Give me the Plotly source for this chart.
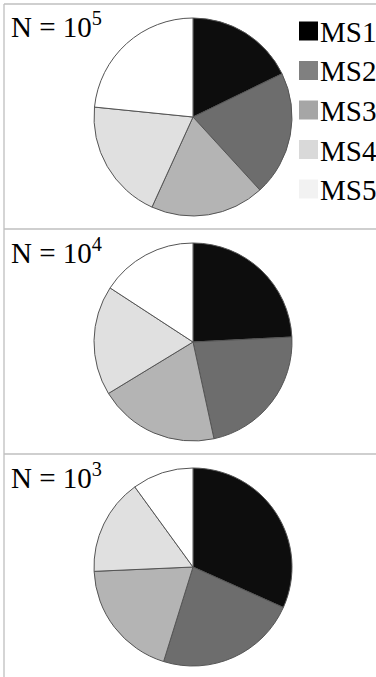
import plotly.graph_objects as go

W, H = 376, 677

categories = ["MS1", "MS2", "MS3", "MS4", "MS5"]
panel_labels = ["N = 10<sup>5</sup>", "N = 10<sup>4</sup>", "N = 10<sup>3</sup>"]
shares_n1e5 = [17.8, 20.4, 18.6, 19.8, 23.4]
shares_n1e4 = [24.2, 22.4, 19.7, 17.9, 15.8]
shares_n1e3 = [31.7, 23.1, 19.5, 15.7, 10.0]

slice_colors = ["#0d0d0d", "#6d6d6d", "#b4b4b4", "#e0e0e0", "#ffffff"]
legend_colors = ["#000000", "#808080", "#a6a6a6", "#d9d9d9", "#f2f2f2"]

FONT = "Liberation Serif"


def px_x(x):
    return x / W


def px_y(y):
    return 1 - y / H


fig = go.Figure()

series = [shares_n1e5, shares_n1e4, shares_n1e3]
centers_y = [117, 342, 567]
cx, r = 193, 99
for vals, cy in zip(series, centers_y):
    fig.add_trace(go.Pie(
        labels=categories,
        values=vals,
        sort=False,
        direction="clockwise",
        rotation=0,
        textinfo="none",
        marker=dict(colors=slice_colors, line=dict(color="#555555", width=1)),
        domain=dict(x=[px_x(cx - r), px_x(cx + r)], y=[px_y(cy + r), px_y(cy - r)]),
        showlegend=False,
    ))

shapes = []
line_style = dict(color="#bfbfbf", width=1.3)
shapes.append(dict(type="line", xref="paper", yref="paper",
                   x0=px_x(4), x1=px_x(4), y0=px_y(4), y1=px_y(677), line=line_style))
for yy in [4, 229, 454]:
    shapes.append(dict(type="line", xref="paper", yref="paper",
                       x0=px_x(4), x1=1, y0=px_y(yy), y1=px_y(yy), line=line_style))

annotations = []
# manual legend
for i, (cat, col) in enumerate(zip(categories, legend_colors)):
    yc = 31 + i * 39.5
    shapes.append(dict(type="rect", xref="paper", yref="paper",
                       x0=px_x(299), x1=px_x(318), y0=px_y(yc + 9.5), y1=px_y(yc - 9.5),
                       fillcolor=col, line=dict(width=0)))
    annotations.append(dict(text=cat, xref="paper", yref="paper", x=px_x(318), y=px_y(yc + 1),
                            xanchor="left", yanchor="middle", showarrow=False,
                            font=dict(family=FONT, size=29, color="black")))

for lab, off in zip(panel_labels, [0, 226, 451]):
    annotations.append(dict(text=lab, xref="paper", yref="paper", x=px_x(9), y=px_y(25 + off),
                            xanchor="left", yanchor="middle", showarrow=False,
                            font=dict(family=FONT, size=29, color="black")))

fig.update_layout(
    width=W, height=H,
    margin=dict(l=0, r=0, t=0, b=0),
    paper_bgcolor="white", plot_bgcolor="white",
    shapes=shapes, annotations=annotations,
    showlegend=False,
)

fig.write_html(
    "out.html",
    config={"displayModeBar": False},
    post_script="document.body.style.margin='0';document.body.style.overflow='hidden';",
)
